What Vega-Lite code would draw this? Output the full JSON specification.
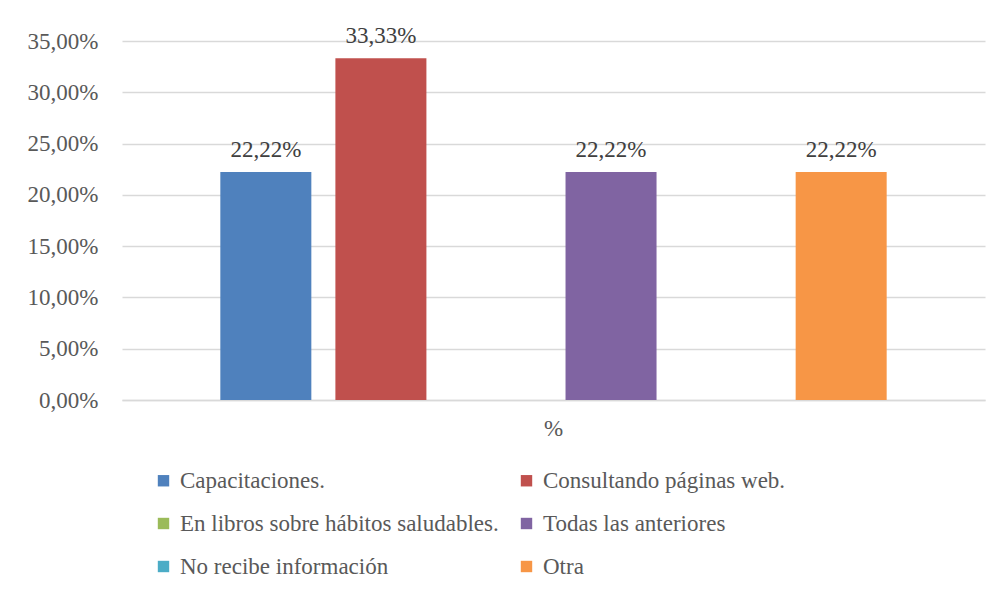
{
  "$schema": "https://vega.github.io/schema/vega-lite/v6.json",
  "width": 863,
  "height": 359,
  "autosize": {"type": "none"},
  "padding": {"left": 122, "top": 41, "right": 15, "bottom": 190},
  "background": "white",
  "config": {
    "locale": {"number": {"decimal": ",", "thousands": ".", "grouping": [3], "currency": ["", " €"]}},
    "font": "Liberation Serif",
    "view": {"stroke": null}
  },
  "data": {
    "values": [
      {"grupo": "%", "categoria": "Capacitaciones.", "valor": 0.2222},
      {"grupo": "%", "categoria": "Consultando páginas web.", "valor": 0.3333},
      {"grupo": "%", "categoria": "En libros sobre hábitos saludables.", "valor": 0},
      {"grupo": "%", "categoria": "Todas las anteriores", "valor": 0.2222},
      {"grupo": "%", "categoria": "No recibe información", "valor": 0},
      {"grupo": "%", "categoria": "Otra", "valor": 0.2222}
    ]
  },
  "encoding": {
    "x": {
      "field": "grupo", "type": "nominal",
      "scale": {"paddingInner": 0, "paddingOuter": 0.125},
      "axis": {"title": null, "labelAngle": 0, "labelFontSize": 23, "labelColor": "#595959", "labelPadding": 17, "ticks": false, "domainColor": "#d9d9d9", "domainWidth": 1.5, "labelFont": "Liberation Serif"}
    },
    "xOffset": {
      "field": "categoria", "type": "nominal",
      "sort": ["Capacitaciones.", "Consultando páginas web.", "En libros sobre hábitos saludables.", "Todas las anteriores", "No recibe información", "Otra"],
      "scale": {"paddingInner": 0.209, "paddingOuter": 0.1045}
    },
    "y": {
      "field": "valor", "type": "quantitative",
      "scale": {"domain": [0, 0.35], "nice": false},
      "axis": {"title": null, "format": ".2%", "values": [0, 0.05, 0.1, 0.15, 0.2, 0.25, 0.3, 0.35], "labelOverlap": false, "labelFontSize": 23, "labelColor": "#595959", "labelPadding": 24, "ticks": false, "domain": false, "gridColor": "#d9d9d9", "gridWidth": 1.5, "labelFont": "Liberation Serif"}
    }
  },
  "layer": [
    {
      "mark": {"type": "bar"},
      "encoding": {
        "color": {
          "field": "categoria", "type": "nominal",
          "sort": ["Capacitaciones.", "Consultando páginas web.", "En libros sobre hábitos saludables.", "Todas las anteriores", "No recibe información", "Otra"],
          "scale": {
            "domain": ["Capacitaciones.", "Consultando páginas web.", "En libros sobre hábitos saludables.", "Todas las anteriores", "No recibe información", "Otra"],
            "range": ["#4F81BD", "#C0504D", "#9BBB59", "#8064A2", "#4BACC6", "#F79646"]
          },
          "legend": {
            "title": null, "orient": "none", "legendX": 30, "legendY": 428,
            "columns": 2, "direction": "horizontal",
            "symbolType": "square", "symbolSize": 130, "symbolStrokeWidth": 0,
            "labelFontSize": 23, "labelColor": "#595959", "labelFont": "Liberation Serif",
            "labelOffset": 5, "rowPadding": 19, "columnPadding": 16, "labelLimit": 400
          }
        }
      }
    },
    {
      "transform": [{"filter": "datum.valor > 0"}],
      "mark": {"type": "text", "baseline": "alphabetic", "dy": -15, "fontSize": 23, "color": "#404040", "font": "Liberation Serif"},
      "encoding": {
        "text": {"field": "valor", "type": "quantitative", "format": ".2%"}
      }
    }
  ]
}
